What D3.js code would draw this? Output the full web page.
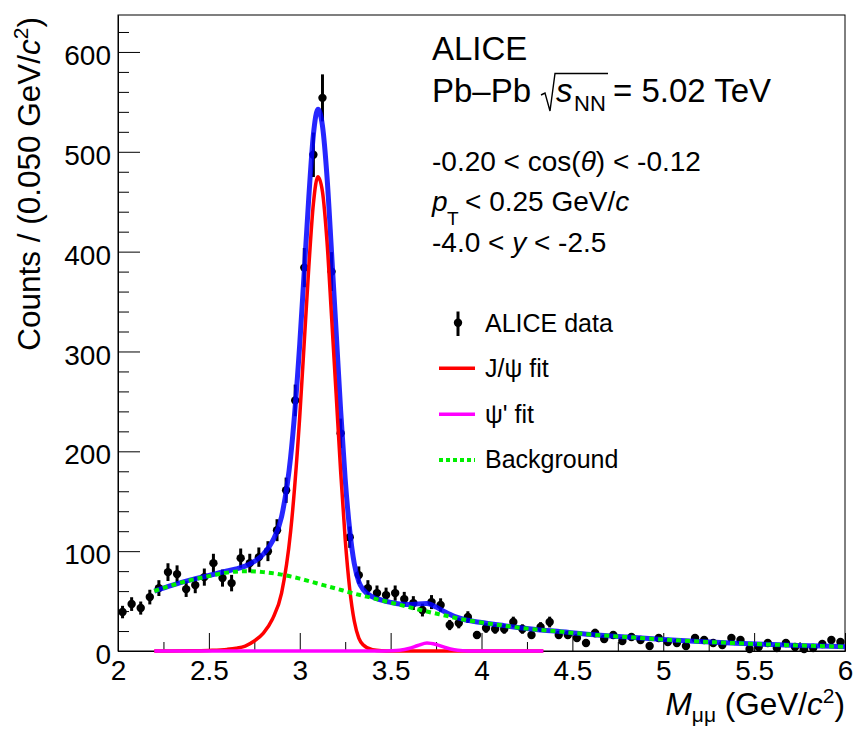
<!DOCTYPE html>
<html>
<head>
<meta charset="utf-8">
<script src="https://cdn.jsdelivr.net/npm/d3@7"></script>
<style>
  html, body { margin: 0; padding: 0; background: #ffffff; }
  svg { display: block; }
  text { font-family: "Liberation Sans", Arial, Helvetica, sans-serif; fill: #000; }
</style>
</head>
<body>
<div id="chart"></div>
<script>
// ---------------- data ----------------
const binCenters = [
  2.025,2.075,2.125,2.175,2.225,2.275,2.325,2.375,2.425,2.475,
  2.525,2.575,2.625,2.675,2.725,2.775,2.825,2.875,2.925,2.975,
  3.025,3.075,3.125,3.175,3.225,3.275,3.325,3.375,3.425,3.475,
  3.525,3.575,3.625,3.675,3.725,3.775,3.825,3.875,3.925,3.975,
  4.025,4.075,4.125,4.175,4.225,4.275,4.325,4.375,4.425,4.475,
  4.525,4.575,4.625,4.675,4.725,4.775,4.825,4.875,4.925,4.975,
  5.025,5.075,5.125,5.175,5.225,5.275,5.325,5.375,5.425,5.475,
  5.525,5.575,5.625,5.675,5.725,5.775,5.825,5.875,5.925,5.975
];
const counts = [
  39,47,43,54,63,79,77,62,66,74,
  88,73,68,93,88,94,100,121,161,251,
  384,497,554,380,218,114,76,63,58,56,
  58,52,48,41,49,46,26,28,34,16,
  23,22,22,29,22,16,24,29,16,16,
  13,8,18,12,16,10,14,11,5,13,
  9,8,5,13,11,8,6,13,11,2,
  4,8,3,8,4,2,3,7,11,9
];

// total fit (blue)
const totalX = [2.2,2.3,2.4,2.5,2.6,2.65,2.7,2.75,2.8,2.85,2.9,2.95,3.0,3.025,3.05,3.075,3.1,3.125,3.15,3.175,3.2,3.225,3.25,3.275,3.3,3.325,3.35,3.4,3.45,3.5,3.55,3.6,3.65,3.7,3.75,3.8,3.85,3.9,4.0,4.1,4.2,4.3,4.4,4.6,4.8,5.0,5.2,5.4,5.6,5.8,6.0];
const totalY = [60,66,71.2,75.6,80.1,82.2,85,89.7,97,110,134.5,194.5,307.5,381,455,517,542.5,526,475,399,320.5,241,172,121,87.5,69.4,61.3,54.2,51,48.7,47,46.5,47.2,47.5,44,39,34.7,31.8,28.5,26,23.5,21.5,20,16.5,14,11.5,9.5,7.8,6.4,5.3,4.3];

// J/psi fit (red)
const jpsiX = [2.2,2.4,2.5,2.6,2.65,2.7,2.75,2.8,2.85,2.9,2.95,3.0,3.025,3.05,3.075,3.1,3.125,3.15,3.175,3.2,3.225,3.25,3.275,3.3,3.325,3.35,3.4,3.45,3.5,4.34];
const jpsiY = [0,0.2,0.6,1.6,2.8,5,10,18,32,58,120,235,310,385,448,475,460,410,335,258,180,112,62,30,13,6,1.2,0.2,0,0];

// psi' fit (magenta)
const psi2X = [2.2,3.45,3.5,3.55,3.6,3.65,3.7,3.75,3.8,3.85,3.9,3.95,4.34];
const psi2Y = [0,0,0.2,0.8,2.5,5.5,8,6.5,3.5,1.2,0.3,0,0];

// background (green dashed)
const bkgX = [2.2,2.3,2.4,2.5,2.6,2.7,2.8,2.9,3.0,3.1,3.2,3.3,3.4,3.5,3.6,3.7,3.8,3.9,4.0,4.1,4.2,4.3,4.4,4.6,4.8,5.0,5.2,5.4,5.6,5.8,6.0];
const bkgY = [60,66,71,75,78.5,80,79,76.5,72.5,67.5,62.5,57.5,53,48.5,44,39.5,35.5,31.5,28.5,26,23.5,21.5,20,16.5,14,11.5,9.5,7.8,6.4,5.3,4.3];

const xTickValues = [2,2.5,3,3.5,4,4.5,5,5.5,6];
const xTickLabels = ["2","2.5","3","3.5","4","4.5","5","5.5","6"];
const yTickValues = [0,100,200,300,400,500,600];
const yTickLabels = ["0","100","200","300","400","500","600"];

const legendLabels = ["ALICE data","J/\u03C8 fit","\u03C8' fit","Background"];

// ---------------- layout ----------------
const W = 856, H = 734;
const L = 118, R = 845, T = 15, B = 651;

const svg = d3.select("#chart").append("svg")
  .attr("width", W).attr("height", H)
  .attr("viewBox", `0 0 ${W} ${H}`);
svg.append("rect").attr("width", W).attr("height", H).attr("fill", "#fff");

const x = d3.scaleLinear().domain([2, 6]).range([L, R]);
const y = d3.scaleLinear().domain([0, 637]).range([B, T]);

// frame
svg.append("rect").attr("x", L).attr("y", T).attr("width", R - L).attr("height", B - T)
  .attr("fill", "none").attr("stroke", "#000").attr("stroke-width", 1);

// x axis
const xMinor = d3.range(2.25, 6, 0.5);
svg.append("g").attr("transform", `translate(0,${B})`)
  .call(d3.axisBottom(x).tickValues(xMinor).tickFormat("").tickSizeInner(-9).tickSizeOuter(0));
const gx = svg.append("g").attr("transform", `translate(0,${B})`)
  .call(d3.axisBottom(x).tickValues(xTickValues).tickFormat((d, i) => xTickLabels[i])
    .tickSizeInner(-18).tickSizeOuter(0).tickPadding(9));
gx.selectAll("text").attr("font-size", 28).attr("font-family", "Liberation Sans, Arial, sans-serif");

// y axis
const yMinor = d3.range(20, 640, 20).filter(v => v % 100 !== 0);
svg.append("g").attr("transform", `translate(${L},0)`)
  .call(d3.axisLeft(y).tickValues(yMinor).tickFormat("").tickSizeInner(-11).tickSizeOuter(0));
const gy = svg.append("g").attr("transform", `translate(${L},0)`)
  .call(d3.axisLeft(y).tickValues(yTickValues).tickFormat((d, i) => yTickLabels[i])
    .tickSizeInner(-22).tickSizeOuter(0).tickPadding(7));
gy.selectAll("text").attr("font-size", 28).attr("dy", "0.45em")
  .attr("font-family", "Liberation Sans, Arial, sans-serif");
svg.selectAll(".domain").attr("stroke", "#000");
svg.selectAll(".tick line").attr("stroke", "#000");

// ---------------- data points ----------------
const pts = binCenters.map((c, i) => ({ x: c, v: counts[i] }));
const gData = svg.append("g");
gData.selectAll("line.err").data(pts).enter().append("line")
  .attr("x1", d => x(d.x)).attr("x2", d => x(d.x))
  .attr("y1", d => y(d.v - Math.sqrt(d.v))).attr("y2", d => y(d.v + Math.sqrt(d.v)))
  .attr("stroke", "#000").attr("stroke-width", 3);
gData.selectAll("circle").data(pts).enter().append("circle")
  .attr("cx", d => x(d.x)).attr("cy", d => y(d.v)).attr("r", 4.2).attr("fill", "#000");

// ---------------- fit curves ----------------
const line = d3.line().x(d => x(d[0])).y(d => y(d[1])).curve(d3.curveMonotoneX);
const zip = (a, b) => a.map((v, i) => [v, b[i]]);

svg.append("path").datum(zip(totalX, totalY)).attr("d", line)
  .attr("fill", "none").attr("stroke", "#0000ff").attr("stroke-width", 5)
  .attr("stroke-opacity", 0.85).attr("stroke-linejoin", "round");
svg.append("path").datum(zip(jpsiX, jpsiY)).attr("d", line)
  .attr("fill", "none").attr("stroke", "#ff0000").attr("stroke-width", 3.5);
svg.append("path").datum(zip(psi2X, psi2Y)).attr("d", line)
  .attr("fill", "none").attr("stroke", "#ff00ff").attr("stroke-width", 3.5);
svg.append("path").datum(zip(bkgX, bkgY)).attr("d", line)
  .attr("fill", "none").attr("stroke", "#00ee00").attr("stroke-width", 4)
  .attr("stroke-dasharray", "5,4");

// ---------------- text block ----------------
svg.append("text").attr("x", 432).attr("y", 60).attr("font-size", 33).text("ALICE");
svg.append("text").attr("x", 432).attr("y", 101.7).attr("font-size", 33).text("Pb\u2013Pb");
svg.append("path").attr("d", "M541,95 L545,93 L550,111 L555,73.5 L608,73.5")
  .attr("fill", "none").attr("stroke", "#000").attr("stroke-width", 1.4);
svg.append("text").attr("x", 556).attr("y", 101.7).attr("font-size", 33)
  .attr("font-style", "italic").text("s");
svg.append("text").attr("x", 574).attr("y", 111).attr("font-size", 22).text("NN");
svg.append("text").attr("x", 613).attr("y", 101.7).attr("font-size", 33).text("= 5.02 TeV");

const t1 = svg.append("text").attr("x", 432).attr("y", 171).attr("font-size", 28);
t1.append("tspan").text("-0.20 < cos(");
t1.append("tspan").attr("font-style", "italic").text("\u03B8");
t1.append("tspan").text(") < -0.12");

svg.append("text").attr("x", 432).attr("y", 211).attr("font-size", 28)
  .attr("font-style", "italic").text("p");
svg.append("text").attr("x", 447).attr("y", 225).attr("font-size", 19).text("T");
const t2 = svg.append("text").attr("x", 465).attr("y", 211).attr("font-size", 28);
t2.append("tspan").text("< 0.25 GeV/");
t2.append("tspan").attr("font-style", "italic").text("c");

const t3 = svg.append("text").attr("x", 432).attr("y", 252).attr("font-size", 28);
t3.append("tspan").text("-4.0 < ");
t3.append("tspan").attr("font-style", "italic").text("y");
t3.append("tspan").text(" < -2.5");

// ---------------- legend ----------------
const legY = [322.7, 368.3, 414.3, 460];
const legTextY = [331.7, 376.7, 423, 468.3];
svg.append("line").attr("x1", 458).attr("x2", 458).attr("y1", 311.5).attr("y2", 336)
  .attr("stroke", "#000").attr("stroke-width", 3);
svg.append("circle").attr("cx", 458).attr("cy", legY[0]).attr("r", 4.2).attr("fill", "#000");
svg.append("line").attr("x1", 439).attr("x2", 475).attr("y1", legY[1]).attr("y2", legY[1])
  .attr("stroke", "#ff0000").attr("stroke-width", 3.5);
svg.append("line").attr("x1", 439).attr("x2", 475).attr("y1", legY[2]).attr("y2", legY[2])
  .attr("stroke", "#ff00ff").attr("stroke-width", 3.5);
svg.append("line").attr("x1", 439).attr("x2", 475).attr("y1", legY[3]).attr("y2", legY[3])
  .attr("stroke", "#00ee00").attr("stroke-width", 4).attr("stroke-dasharray", "4,3");
legendLabels.forEach((lab, i) => {
  svg.append("text").attr("x", 485).attr("y", legTextY[i]).attr("font-size", 25).text(lab);
});

// ---------------- axis titles ----------------
const xt = svg.append("text").attr("x", 845).attr("y", 715).attr("font-size", 31.5)
  .attr("text-anchor", "end");
xt.append("tspan").attr("font-style", "italic").text("M");
xt.append("tspan").attr("font-size", 21).attr("dy", 7).text("\u03BC\u03BC");
xt.append("tspan").attr("dy", -7).text(" (GeV/");
xt.append("tspan").attr("font-style", "italic").text("c");
xt.append("tspan").attr("font-size", 21).attr("dy", -12).text("2");
xt.append("tspan").attr("dy", 12).text(")");

const yt = svg.append("text").attr("transform", "translate(40,17) rotate(-90)")
  .attr("font-size", 31.5).attr("text-anchor", "end");
yt.append("tspan").text("Counts / (0.050 GeV/");
yt.append("tspan").attr("font-style", "italic").text("c");
yt.append("tspan").attr("font-size", 21).attr("dy", -12).text("2");
yt.append("tspan").attr("dy", 12).text(")");
</script>
</body>
</html>
